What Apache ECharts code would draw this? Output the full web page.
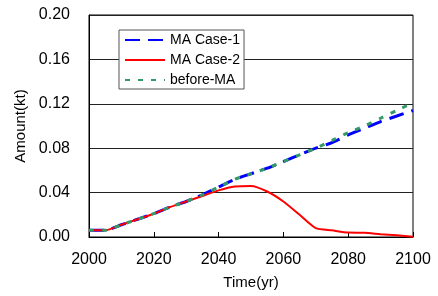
<!DOCTYPE html>
<html><head><meta charset="utf-8">
<script src="https://cdn.jsdelivr.net/npm/echarts@6/dist/echarts.min.js"></script>
<style>html,body{margin:0;padding:0;background:#fff}#c{width:438px;height:296px}</style>
</head><body><div id="c"></div>
<script>
var years = [2000,2005,2010,2015,2020,2025,2030,2035,2040,2045,2050,2055,2060,2065,2070,2075,2080,2085,2090,2095,2100];
var case1 = [0.006,0.006,0.011,0.016,0.021,0.027,0.032,0.038,0.045,0.052,0.057,0.062,0.068,0.074,0.080,0.085,0.092,0.098,0.104,0.109,0.114];
var case2 = [0.006,0.006,0.011,0.016,0.021,0.027,0.032,0.037,0.042,0.0455,0.046,0.041,0.032,0.020,0.008,0.006,0.004,0.0038,0.0025,0.0015,0.0003];
var beforeMA = [0.006,0.006,0.011,0.016,0.021,0.027,0.032,0.038,0.045,0.052,0.057,0.062,0.068,0.074,0.080,0.087,0.094,0.100,0.107,0.114,0.121];
var xTicks = {min:2000, max:2100, interval:20};
var yTicks = {min:0, max:0.2, interval:0.04};
function pairs(v){ return years.map(function(y,i){return [y, v[i]];}); }
var font = 'Liberation Sans, Arial, sans-serif';
var chart = echarts.init(document.getElementById('c'));
chart.setOption({
  animation:false,
  grid:{left:89,right:25,top:15,bottom:59,show:true,borderColor:'#000',borderWidth:1,backgroundColor:'transparent'},
  legend:{
    orient:'vertical', left:119, top:30,
    backgroundColor:'#fff', borderColor:'#555', borderWidth:1,
    padding:[3,4,2,5], itemGap:6, itemWidth:40, itemHeight:14,
    itemStyle:{opacity:0},
    textStyle:{fontFamily:font,fontSize:14,color:'#000'},
    data:['MA Case-1','MA Case-2','before-MA']
  },
  xAxis:{
    type:'value', min:xTicks.min, max:xTicks.max, interval:xTicks.interval,
    name:'Time(yr)', nameLocation:'middle', nameGap:38,
    nameTextStyle:{fontFamily:font,fontSize:15,color:'#000'},
    axisLine:{lineStyle:{color:'#000',width:1}},
    axisTick:{inside:true,length:5,lineStyle:{color:'#000'}},
    axisLabel:{fontFamily:font,fontSize:16,color:'#000',margin:15,formatter:function(v){return String(v);}},
    splitLine:{show:false}
  },
  yAxis:{
    type:'value', min:yTicks.min, max:yTicks.max, interval:yTicks.interval,
    name:'Amount(kt)', nameLocation:'middle', nameGap:60,
    nameTextStyle:{fontFamily:font,fontSize:15,color:'#000'},
    axisLine:{show:true,lineStyle:{color:'#000',width:1}},
    axisTick:{show:false},
    axisLabel:{fontFamily:font,fontSize:16,color:'#000',margin:19,formatter:function(v){return v.toFixed(2);}},
    splitLine:{show:true,lineStyle:{color:'#222',width:1}}
  },
  series:[
    {name:'MA Case-1',type:'line',data:pairs(case1),symbol:'none',smooth:0.2,
     lineStyle:{color:'#0000ff',width:3,type:[15,8]},itemStyle:{color:'#0000ff'},z:2},
    {name:'MA Case-2',type:'line',data:pairs(case2),symbol:'none',smooth:0.2,
     lineStyle:{color:'#ff0000',width:2,type:'solid'},itemStyle:{color:'#ff0000'},z:3},
    {name:'before-MA',type:'line',data:pairs(beforeMA),symbol:'none',smooth:0.2,
     lineStyle:{color:'#339966',width:3,type:[5,8]},itemStyle:{color:'#339966'},z:4}
  ]
});
</script></body></html>
